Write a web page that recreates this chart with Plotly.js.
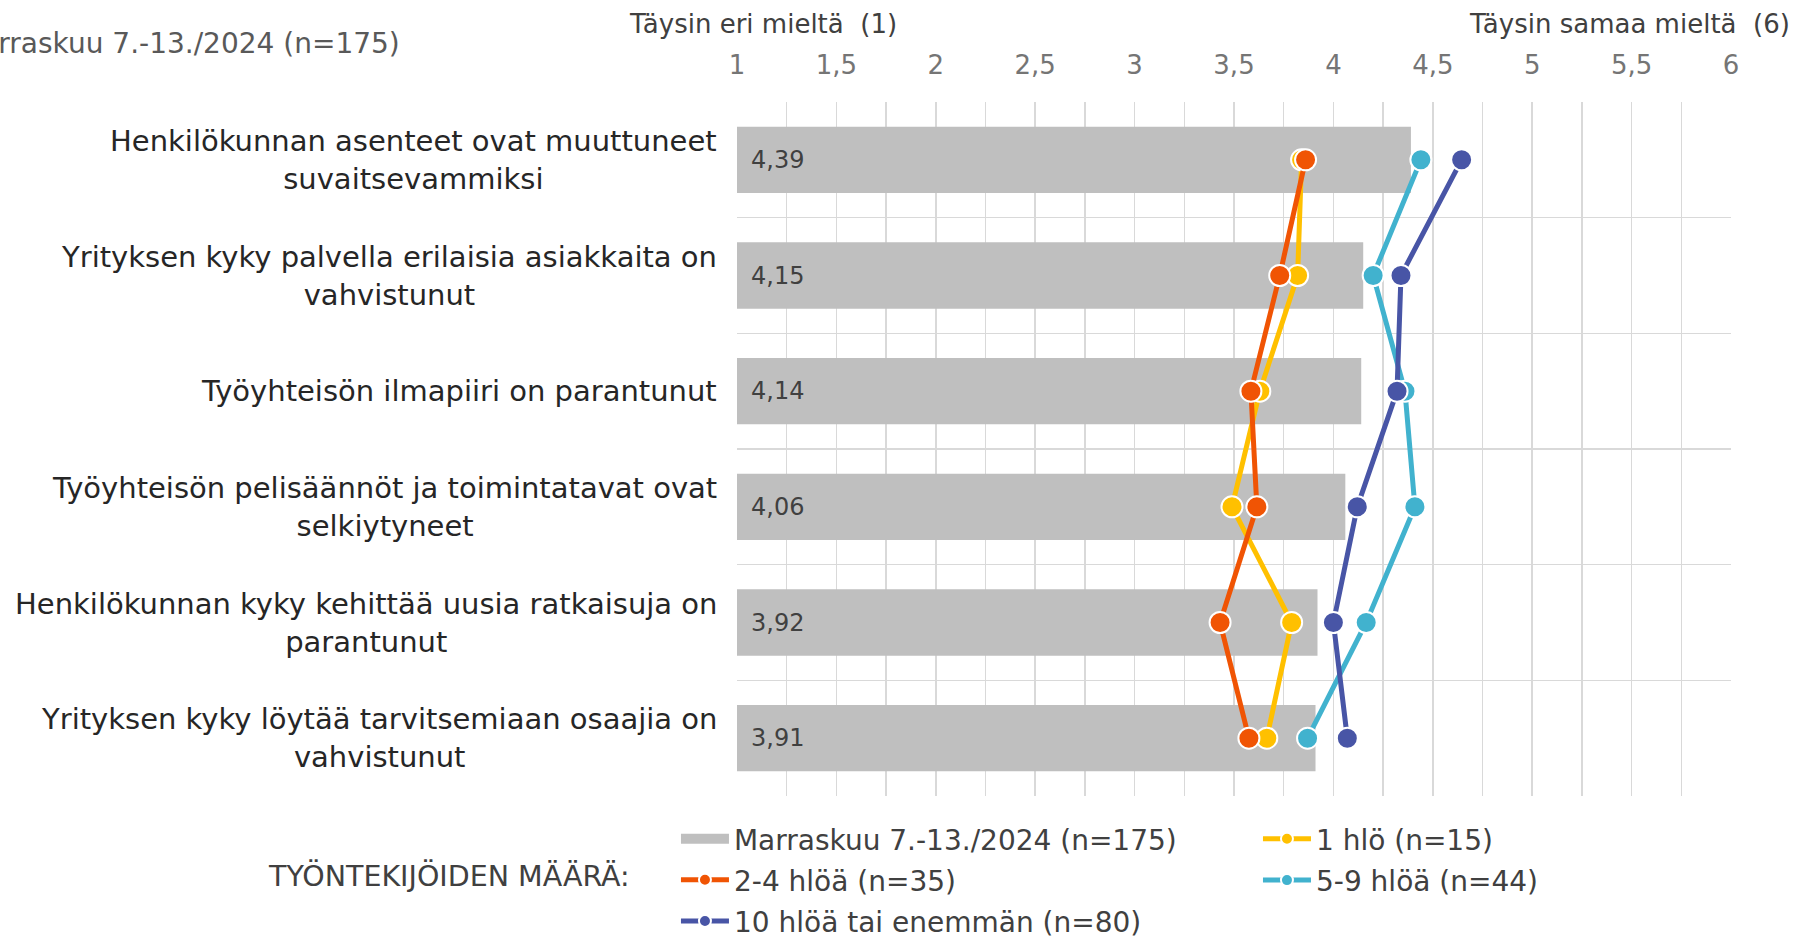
<!DOCTYPE html>
<html>
<head>
<meta charset="utf-8">
<script src="https://cdn.plot.ly/plotly-3.0.1.min.js"></script>
<style>html,body{margin:0;padding:0;background:#fff;}#chart{width:1793px;height:938px;}</style>
</head>
<body>
<div id="chart"></div>
<script>
// ---- data ----
const categories = [
  "Henkilökunnan asenteet ovat muuttuneet suvaitsevammiksi",
  "Yrityksen kyky palvella erilaisia asiakkaita on vahvistunut",
  "Työyhteisön ilmapiiri on parantunut",
  "Työyhteisön pelisäännöt ja toimintatavat ovat selkiytyneet",
  "Henkilökunnan kyky kehittää uusia ratkaisuja on parantunut",
  "Yrityksen kyky löytää tarvitsemiaan osaajia on vahvistunut"
];
const categoryLabels = [
  "Henkilökunnan asenteet ovat muuttuneet<br>suvaitsevammiksi",
  "Yrityksen kyky palvella erilaisia asiakkaita on<br>vahvistunut",
  "Työyhteisön ilmapiiri on parantunut",
  "Työyhteisön pelisäännöt ja toimintatavat ovat<br>selkiytyneet",
  "Henkilökunnan kyky kehittää uusia ratkaisuja on<br>parantunut",
  "Yrityksen kyky löytää tarvitsemiaan osaajia on<br>vahvistunut"
];
const totalName = "Marraskuu 7.-13./2024 (n=175)";
const totalValues = [4.39, 4.15, 4.14, 4.06, 3.92, 3.91];
const oneName = "1 hlö (n=15)";
const oneValues = [3.84, 3.82, 3.63, 3.49, 3.79, 3.665];
const twoName = "2-4 hlöä (n=35)";
const twoValues = [3.86, 3.73, 3.585, 3.615, 3.43, 3.575];
const fiveName = "5-9 hlöä (n=44)";
const fiveValues = [4.44, 4.20, 4.36, 4.41, 4.165, 3.87];
const tenName = "10 hlöä tai enemmän (n=80)";
const tenValues = [4.645, 4.34, 4.32, 4.12, 4.00, 4.07];
const xTickVals = [1, 1.5, 2, 2.5, 3, 3.5, 4, 4.5, 5, 5.5, 6];
const leftTitle = "Täysin eri mieltä  (1)";
const rightTitle = "Täysin samaa mieltä  (6)";
const legendTitle = "TYÖNTEKIJÖIDEN MÄÄRÄ:";

// ---- styles ----
const FONT = "DejaVu Sans, Verdana, sans-serif";
const colGray = "#BFBFBF", colYellow = "#FFC000", colOrange = "#F05404", colCyan = "#41B2CE", colNavy = "#4855A6";
function lineTrace(name, vals, color, legend) {
  return {
    type: "scatter", mode: "lines+markers", name: name, x: vals, y: categories,
    line: {color: color, width: 5},
    marker: {color: color, size: 21, line: {color: "#ffffff", width: 2}},
    legend: legend, legendgroup: name, hoverinfo: "x+name"
  };
}
const traces = [
  {type: "bar", orientation: "h", name: totalName, x: totalValues, y: categories,
   marker: {color: colGray}, showlegend: false, hoverinfo: "x"},
  // legend swatch for the bar series (wide rectangle like the original)
  {type: "scatter", mode: "lines", name: totalName, x: [null], y: [null],
   line: {color: colGray, width: 14}, legend: "legend3", legendgroup: totalName, hoverinfo: "skip"},
  lineTrace(oneName, oneValues, colYellow, "legend2"),
  lineTrace(twoName, twoValues, colOrange, "legend"),
  lineTrace(fiveName, fiveValues, colCyan, "legend2"),
  lineTrace(tenName, tenValues, colNavy, "legend")
];

const annotations = [];
categories.forEach((c, i) => {
  annotations.push({xref: "paper", x: 0, xanchor: "right", xshift: -18, yref: "y", y: c,
    text: categoryLabels[i], showarrow: false, align: "center",
    font: {family: FONT, size: 29, color: "#262626"}});
  annotations.push({xref: "x", x: 1, xanchor: "left", xshift: 12, yref: "y", y: c,
    text: totalValues[i].toFixed(2).replace(".", ","), showarrow: false,
    font: {family: FONT, size: 24, color: "#404040"}});
});
annotations.push({xref: "paper", x: 0.026, xanchor: "center", yref: "paper", y: 1.112, yanchor: "middle",
  text: leftTitle, showarrow: false, font: {family: FONT, size: 26, color: "#404040"}});
annotations.push({xref: "paper", x: 0.898, xanchor: "center", yref: "paper", y: 1.112, yanchor: "middle",
  text: rightTitle, showarrow: false, font: {family: FONT, size: 26, color: "#404040"}});
annotations.push({xref: "paper", x: -0.337, xanchor: "right", yref: "paper", y: 1.085, yanchor: "middle",
  text: totalName, showarrow: false, font: {family: FONT, size: 28, color: "#595959"}});
annotations.push({xref: "paper", x: -0.1056, xanchor: "right", yref: "paper", y: -0.1153, yanchor: "middle",
  text: legendTitle, showarrow: false, font: {family: FONT, size: 28.5, color: "#404040"}});

const legendCommon = {
  orientation: "v", xref: "container", yref: "container", xanchor: "left", yanchor: "top",
  traceorder: "grouped", tracegroupgap: 2, itemwidth: 48, itemsizing: "constant",
  font: {family: FONT, size: 28, color: "#404040"}, bgcolor: "rgba(0,0,0,0)"
};
const layout = {
  width: 1793, height: 938,
  margin: {l: 737, r: 62, t: 102, b: 142, autoexpand: false},
  paper_bgcolor: "#ffffff", plot_bgcolor: "#ffffff",
  separators: ", ",
  bargap: 0.427,
  showlegend: true,
  font: {family: FONT, color: "#404040"},
  xaxis: {
    side: "top", range: [1, 6], tickvals: xTickVals, tickformat: ".1~f",
    showgrid: true, gridcolor: "#D9D9D9", gridwidth: 1.5,
    minor: {dtick: 0.25, tick0: 1, showgrid: true, gridcolor: "#D9D9D9", gridwidth: 1.5},
    zeroline: false, showline: false, ticks: "", ticklabelstandoff: 22,
    tickfont: {family: FONT, size: 26, color: "#757575"}, fixedrange: true
  },
  yaxis: {
    type: "category", autorange: "reversed", tickson: "boundaries",
    showgrid: true, gridcolor: "#D9D9D9", gridwidth: 1.5,
    showticklabels: false, ticks: "", zeroline: false, showline: false, fixedrange: true
  },
  legend3: Object.assign({}, legendCommon, {x: 0.377, y: 0.1322, itemsizing: "trace"}),
  legend: Object.assign({}, legendCommon, {x: 0.377, y: 0.0885}),
  legend2: Object.assign({}, legendCommon, {x: 0.7016, y: 0.1322}),
  annotations: annotations
};
Plotly.newPlot("chart", traces, layout, {displayModeBar: false, staticPlot: true});
</script>
</body>
</html>
